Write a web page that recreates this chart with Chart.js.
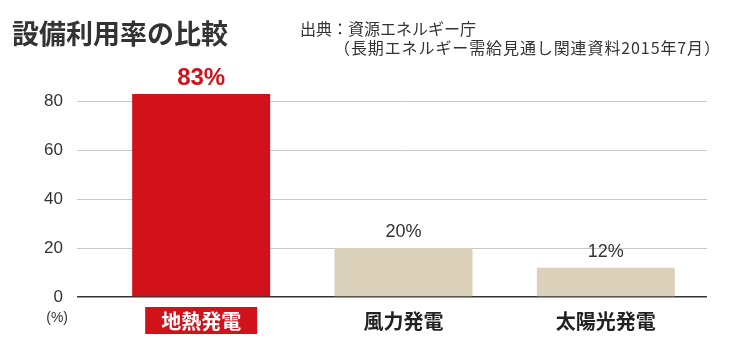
<!DOCTYPE html>
<html><head><meta charset="utf-8">
<style>html,body{margin:0;padding:0;background:#fff}#wrap{position:relative;width:746px;height:356px}</style>
<script src="https://cdn.jsdelivr.net/npm/chart.js@4"></script>
</head><body><div id="wrap"><canvas id="c" width="746" height="356"></canvas></div>
<script>
const chartTitle = '設備利用率の比較';
const sourceLines = ['出典：資源エネルギー庁', '（長期エネルギー需給見通し関連資料2015年7月）'];
const categories = ['地熱発電', '風力発電', '太陽光発電'];
const utilization = [83, 20, 12];
const valueLabels = ['83%', '20%', '12%'];
const yTicks = [0, 20, 40, 60, 80];
const yUnit = '(%)';

const RED = '#d1121b';
const BEIGE = '#dbd0b9';
const TXT = '#333333';
const JP = '"Noto Sans CJK JP", sans-serif';
const NUM = '"Liberation Sans", "Noto Sans CJK JP", sans-serif';

const decor = {
  id: 'decor',
  beforeDraw(chart) {
    const ctx = chart.ctx;
    const xs = chart.scales.x;
    const cx = xs.getPixelForTick(0);
    ctx.save();
    ctx.fillStyle = RED;
    ctx.fillRect(cx - 56, 307, 112, 27);
    ctx.restore();
  },
  afterDatasetsDraw(chart) {
    const ctx = chart.ctx;
    const meta = chart.getDatasetMeta(0);
    ctx.save();
    ctx.textAlign = 'center';
    ctx.textBaseline = 'middle';
    meta.data.forEach((bar, i) => {
      if (i === 0) { ctx.font = 'bold 24px ' + NUM; ctx.fillStyle = RED; }
      else { ctx.font = '18px ' + NUM; ctx.fillStyle = TXT; }
      ctx.fillText(valueLabels[i], bar.x, bar.y - 16);
    });
    ctx.restore();
  },
  afterDraw(chart) {
    const ctx = chart.ctx;
    const ys = chart.scales.y;
    ctx.save();
    ctx.fillStyle = TXT;
    ctx.textBaseline = 'middle';
    ctx.textAlign = 'left';
    ctx.font = 'bold 27px ' + JP;
    ctx.fillText(chartTitle, 12, 34);
    ctx.font = '16px ' + JP;
    ctx.fillText(sourceLines[0], 300, 29);
    ctx.letterSpacing = '0.9px';
    ctx.fillText(sourceLines[1], 334, 48);
    ctx.letterSpacing = '0px';
    ctx.font = '14px ' + NUM;
    ctx.textAlign = 'right';
    ctx.fillText(yUnit, 68, ys.getPixelForValue(0) + 21);
    ctx.restore();
  }
};

new Chart(document.getElementById('c'), {
  type: 'bar',
  data: {
    labels: categories,
    datasets: [{
      data: utilization,
      backgroundColor: [RED, BEIGE, BEIGE],
      borderWidth: 0,
      categoryPercentage: 1,
      barPercentage: 0.682
    }]
  },
  options: {
    responsive: false,
    animation: false,
    layout: { padding: { left: 0, right: 39, top: 77, bottom: 0 } },
    plugins: { legend: { display: false }, tooltip: { enabled: false }, title: { display: false } },
    scales: {
      x: {
        offset: true,
        grid: { display: false },
        border: { display: false },
        ticks: {
          padding: 4,
          font: { family: JP, size: 20, weight: 'bold' },
          color: (c) => c.index === 0 ? '#ffffff' : '#222222'
        },
        afterFit(s) { s.height = 59; }
      },
      y: {
        min: 0,
        max: 90,
        afterBuildTicks(s) { s.ticks = yTicks.map(v => ({ value: v })); },
        afterFit(s) { s.width = 100; },
        border: { display: false },
        grid: {
          drawTicks: true,
          tickLength: 23,
          color: (c) => c.tick && c.tick.value === 0 ? '#333333' : '#c9c9c9',
          lineWidth: (c) => c.tick && c.tick.value === 0 ? 1.5 : 1
        },
        ticks: {
          padding: 14,
          color: TXT,
          font: { family: NUM, size: 17 }
        }
      }
    }
  },
  plugins: [decor]
});
</script></body></html>
